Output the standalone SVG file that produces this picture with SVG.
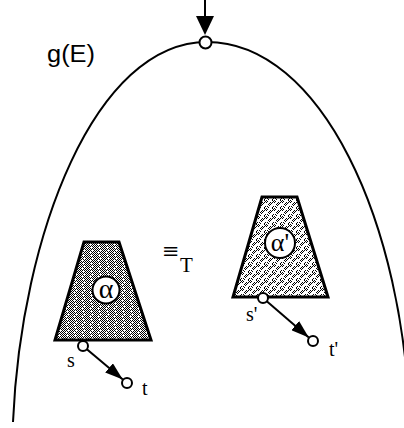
<svg xmlns="http://www.w3.org/2000/svg" width="404" height="428" viewBox="0 0 404 428">
<style>
.ln{fill:none;stroke:#000;stroke-width:2}
.cir{fill:#fff;stroke:#000;stroke-width:2}
.trap{stroke:#000;stroke-width:3;stroke-linejoin:miter}
.serif{font-family:"Liberation Serif","Times New Roman",serif;fill:#000}
.sans{font-family:"Liberation Sans",Arial,sans-serif;fill:#000}
</style>
<defs>
<pattern id="dense" width="8" height="8" patternUnits="userSpaceOnUse">
<rect width="8" height="8" fill="#fff"/>
<path d="M0 0h1v1H0zM2 0h1v1H2zM4 0h1v1H4zM6 0h1v1H6zM1 1h1v1H1zM3 1h1v1H3zM5 1h1v1H5zM7 1h1v1H7zM0 2h1v1H0zM2 2h1v1H2zM6 2h1v1H6zM1 3h1v1H1zM3 3h1v1H3zM5 3h1v1H5zM7 3h1v1H7zM0 4h1v1H0zM4 4h1v1H4zM6 4h1v1H6zM1 5h1v1H1zM3 5h1v1H3zM5 5h1v1H5zM7 5h1v1H7zM0 6h1v1H0zM2 6h1v1H2zM4 6h1v1H4zM6 6h1v1H6zM1 7h1v1H1zM5 7h1v1H5zM7 7h1v1H7z" fill="#000"/>
</pattern>
<pattern id="light" width="8" height="8" patternUnits="userSpaceOnUse">
<rect width="8" height="8" fill="#fff"/>
<path d="M0 0h1v1H0zM2 0h1v1H2zM1 1h1v1H1zM3 1h1v1H3zM0 2h1v1H0zM2 2h1v1H2zM6 2h1v1H6zM5 3h1v1H5zM7 3h1v1H7zM4 4h1v1H4zM6 4h1v1H6zM5 5h1v1H5zM1 6h1v1H1zM3 6h1v1H3zM0 7h1v1H0zM4 7h1v1H4z" fill="#000"/>
</pattern>
<marker id="ah" viewBox="0 0 18 12" refX="18" refY="6" markerWidth="18" markerHeight="12" markerUnits="userSpaceOnUse" orient="auto">
<path d="M0 0L18 6L0 12z" fill="#000"/>
</marker>
</defs>

<g id="connectors">
<path id="curve" class="ln" d="M13 422 C21 235 95 42 207 42 C320 42 405 220 410 430"/>
<line class="ln" x1="205" y1="0" x2="205" y2="17"/>
<path d="M196 16L214 16L205 35z" fill="#000"/>
<line class="ln" x1="83" y1="346" x2="122.8" y2="379.5" marker-end="url(#ah)"/>
<line class="ln" x1="263" y1="298" x2="308.8" y2="337.4" marker-end="url(#ah)"/>
</g>

<g id="top-node">
<circle class="cir" cx="205.5" cy="42.5" r="6"/>
</g>

<g id="label-gE">
<text class="sans" x="47" y="62" font-size="23" textLength="48" lengthAdjust="spacingAndGlyphs">g(E)</text>
</g>

<g id="alpha">
<path class="trap" d="M84 242L119 242L151 340L55 340Z" fill="url(#dense)"/>
<circle class="cir" cx="106" cy="290" r="13.5"/>
<text class="serif" x="106" y="298" font-size="28" text-anchor="middle">α</text>
</g>

<g id="alpha-prime">
<path class="trap" d="M262 197L297 197L328 297L233 297Z" fill="url(#light)"/>
<circle class="cir" cx="280" cy="243" r="15"/>
<text class="serif" x="280" y="251" font-size="26" text-anchor="middle">α'</text>
</g>

<g id="s">
<circle class="cir" cx="83" cy="346" r="5"/>
<text class="serif" x="67" y="367" font-size="20">s</text>
</g>
<g id="t">
<circle class="cir" cx="127" cy="383" r="5"/>
<text class="serif" x="142" y="395" font-size="20">t</text>
</g>
<g id="s-prime">
<circle class="cir" cx="263" cy="298" r="5"/>
<text class="serif" x="246" y="321" font-size="20">s'</text>
</g>
<g id="t-prime">
<circle class="cir" cx="313" cy="341" r="5"/>
<text class="serif" x="329" y="356" font-size="20">t'</text>
</g>

<g id="equiv">
<text x="162" y="258" font-size="21" font-family="'DejaVu Serif',serif">≡</text>
<text class="serif" x="180" y="272" font-size="21">T</text>
</g>
</svg>
